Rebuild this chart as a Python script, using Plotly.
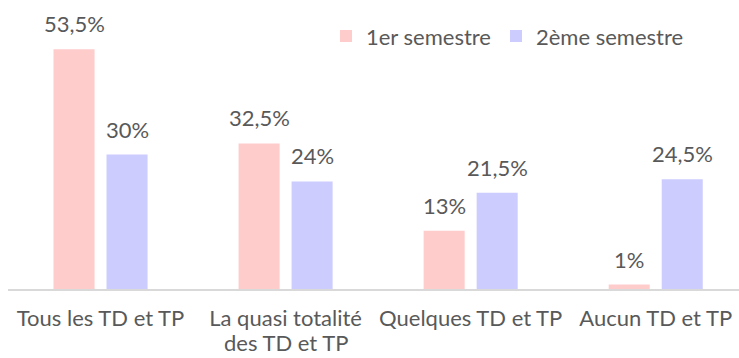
import plotly.graph_objects as go

# Survey categories and shares (%) per semester
categories = ["Tous les TD et TP", "La quasi totalité\ndes TD et TP",
              "Quelques TD et TP", "Aucun TD et TP"]
sem1 = [53.5, 32.5, 13, 1]
sem2 = [30, 24, 21.5, 24.5]
series_names = ["1er semestre", "2ème semestre"]
colors = ["#FFCCCC", "#CCCCFF"]

FONT = "Lato"
TEXT_COLOR = "#595959"
FS = 22

first_lines = [c.split("\n")[0] for c in categories]
second_lines = [c.split("\n")[1] if "\n" in c else "" for c in categories]


def fmt(v):
    return f"{v:g}".replace(".", ",") + "%"


fig = go.Figure()
for name, vals, col in zip(series_names, [sem1, sem2], colors):
    fig.add_trace(go.Bar(
        x=first_lines, y=vals, name=name, marker=dict(color=col, line=dict(width=0)),
        hoverinfo="skip",
    ))

# value labels above each bar
for vals, dx in [(sem1, -26.5), (sem2, 26.5)]:
    for c, v in zip(first_lines, vals):
        fig.add_annotation(
            x=c, y=v, text=fmt(v), showarrow=False, xshift=dx, yshift=10,
            yanchor="bottom", font=dict(family=FONT, size=FS, color=TEXT_COLOR),
        )

# second line of wrapped category labels (wider line spacing than <br>)
for c, s in zip(first_lines, second_lines):
    if s:
        fig.add_annotation(
            x=c, y=0, yref="y", text=s, showarrow=False, yanchor="top", yshift=-38,
            font=dict(family=FONT, size=FS, color=TEXT_COLOR),
        )

fig.update_layout(
    width=739, height=358,
    margin=dict(l=8, r=0, t=0, b=69),
    paper_bgcolor="white", plot_bgcolor="white",
    barmode="group", bargap=0.427, bargroupgap=0.226,
    font=dict(family=FONT, size=FS, color=TEXT_COLOR),
    showlegend=True,
    legend=dict(orientation="h", x=0.435, y=0.875, xanchor="left", yanchor="middle",
                font=dict(family=FONT, size=FS, color=TEXT_COLOR),
                bgcolor="rgba(0,0,0,0)"),
    xaxis=dict(range=[-0.5, 3.45], showline=True, linecolor="#D9D9D9", linewidth=1.5,
               showgrid=False, zeroline=False, ticks="", ticklabelstandoff=9,
               automargin=False,
               tickfont=dict(family=FONT, size=FS, color=TEXT_COLOR), fixedrange=True),
    yaxis=dict(range=[0, 64.5], visible=False, fixedrange=True),
)

fig.write_html("out.html")
